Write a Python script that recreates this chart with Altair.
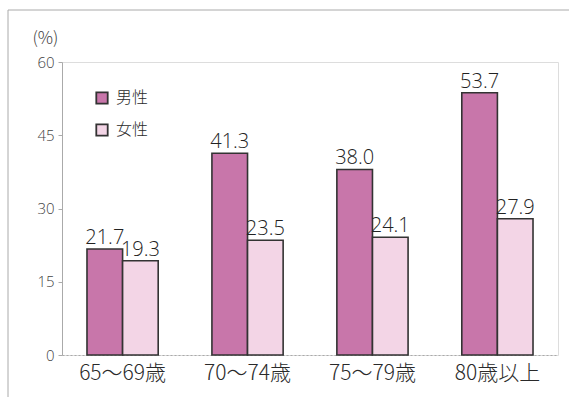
import altair as alt
import pandas as pd

ages = ["65〜69歳", "70〜74歳", "75〜79歳", "80歳以上"]
sexes = ["男性", "女性"]
male = [21.7, 41.3, 38.0, 53.7]
female = [19.3, 23.5, 24.1, 27.9]
colors = ["#c876aa", "#f3d5e6"]

rows = []
for a, m, f in zip(ages, male, female):
    rows.append({"age": a, "sex": "男性", "value": m})
    rows.append({"age": a, "sex": "女性", "value": f})
df = pd.DataFrame(rows)

JP = "Noto Sans CJK JP"

x = alt.X("age:N", sort=ages, title=None,
          scale=alt.Scale(paddingInner=0.43, paddingOuter=0.2),
          axis=alt.Axis(labelAngle=0, labelFont=JP, labelFontSize=21, labelFontWeight=300,
                        labelColor="#2a2a2a",
                        ticks=False, domainColor="#aaa", domainDash=[2, 2], domainWidth=1.2,
                        labelPadding=7))
xo = alt.XOffset("sex:N", sort=sexes, scale=alt.Scale(paddingInner=0, paddingOuter=0))
y = alt.Y("value:Q", scale=alt.Scale(domain=[0, 60]), title="(%)",
          axis=alt.Axis(values=[0, 15, 30, 45, 60], grid=False, labelFont="Open Sans",
                        labelFontWeight=300,
                        labelFontSize=15, labelColor="#444", tickSize=4, tickColor="#aaa",
                        domainColor="#aaa", labelPadding=4,
                        titleAngle=0, titleFont=JP, titleFontSize=17, titleFontWeight=300,
                        titleColor="#444", titleX=-30, titleY=-24, titleAlign="left",
                        titleBaseline="middle"))

bars = alt.Chart(df).mark_bar(stroke="#333", strokeWidth=1.6).encode(
    x=x, xOffset=xo, y=y,
    color=alt.Color("sex:N", sort=sexes, scale=alt.Scale(domain=sexes, range=colors),
                    legend=alt.Legend(title=None, orient="none", legendX=32, legendY=28,
                                      symbolType="square", symbolSize=130,
                                      symbolStrokeColor="#333", symbolStrokeWidth=1.8,
                                      labelFont=JP, labelFontSize=16, labelFontWeight=300,
                                      labelColor="#2a2a2a",
                                      rowPadding=12, labelOffset=6)))

labels = alt.Chart(df).mark_text(baseline="bottom", dy=-1, font="Open Sans", fontSize=20,
                                 fontWeight=300, color="#222").encode(
    x=x, xOffset=xo, y="value:Q", text=alt.Text("value:Q", format=".1f"))

frame = alt.Chart(pd.DataFrame({"a": [0]})).mark_rect(fill=None, stroke="#aaa", strokeWidth=1).encode(
    x=alt.value(-54), x2=alt.value(520), y=alt.value(-52), y2=alt.value(360))

chart = alt.layer(frame, bars, labels).properties(
    width=496, height=293,
    padding={"left": 62, "top": 62, "right": 11, "bottom": 42},
    autosize=alt.AutoSizeParams(type="none"),
).configure_view(stroke=None).configure(background="white")

chart.save("out.html", embed_options={"renderer": "svg", "actions": False})
